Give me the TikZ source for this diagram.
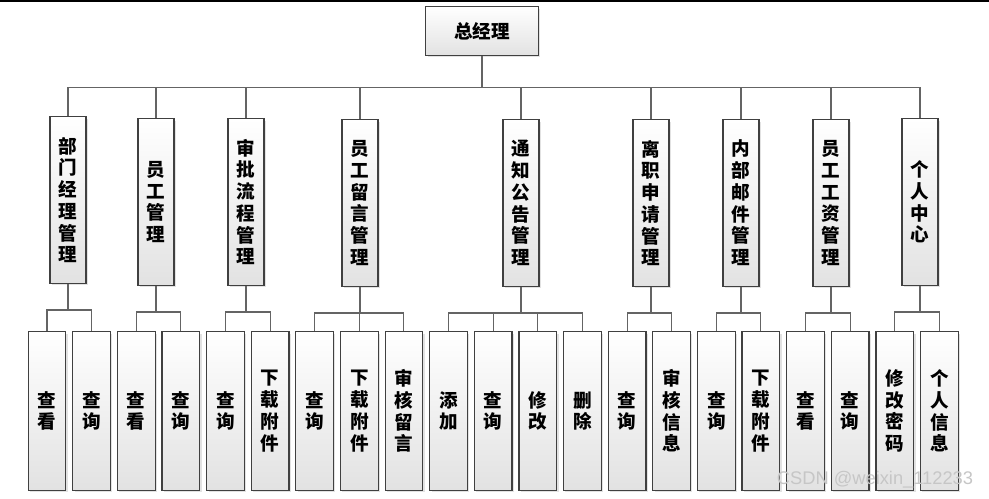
\documentclass[tikz,border=0pt]{standalone}
\usepackage{fontspec}
\usepackage{xcolor}
\usepackage{tikz}
\newfontfamily\cjk{Noto Sans CJK SC}
\newfontfamily\wmfont{Liberation Sans}
\definecolor{boxline}{RGB}{64, 64, 64}
\definecolor{linkgray}{RGB}{100, 100, 100}
\definecolor{shadegray}{RGB}{226, 226, 226}
\usetikzlibrary{positioning, calc, shadows}

\begin{document}
\begin{tikzpicture}[
    x=0.0265cm, y=-0.0265cm,
    node distance=0.151cm,
    basebox/.style={rectangle, draw=boxline, line width=0.9pt, top color=white, bottom color=shadegray, drop shadow={shadow xshift=0.05cm, shadow yshift=-0.05cm, fill=gray!45}, inner sep=0pt, align=center, font=\cjk\bfseries\fontsize{14}{16.4}\selectfont},
    topbox/.style={basebox, minimum width=2.98cm, minimum height=1.29cm},
    modbox/.style={basebox, minimum width=0.95cm, minimum height=4.42cm},
    leafbox/.style={basebox, minimum width=1.0cm, minimum height=4.2cm},
    link/.style={draw=linkgray, line width=0.8pt}
]
    \useasboundingbox[fill=white] (0,0) rectangle (989,499);
    \draw[line width=0.05cm] (0,1) -- (989,1);

    \node[topbox] (gm) at (482,31) {总经理};

    \node[modbox] (m1) at (68,200) {部\\门\\经\\理\\管\\理};
    \node[modbox] (m2) at (156,202) {员\\工\\管\\理};
    \node[modbox] (m3) at (246,202) {审\\批\\流\\程\\管\\理};
    \node[modbox] (m4) at (360,203) {员\\工\\留\\言\\管\\理};
    \node[modbox] (m5) at (521,203) {通\\知\\公\\告\\管\\理};
    \node[modbox] (m6) at (651,203) {离\\职\\申\\请\\管\\理};
    \node[modbox] (m7) at (741,203) {内\\部\\邮\\件\\管\\理};
    \node[modbox] (m8) at (831,203) {员\\工\\工\\资\\管\\理};
    \node[modbox] (m9) at (920,202) {个\\人\\中\\心};

    \node[leafbox] (a1) at (47,411) {查\\看};
    \node[leafbox, right=of a1] (a2) {查\\询};
    \node[leafbox, right=of a2] (b1) {查\\看};
    \node[leafbox, right=of b1] (b2) {查\\询};
    \node[leafbox, right=of b2] (c1) {查\\询};
    \node[leafbox, right=of c1] (c2) {下\\载\\附\\件};
    \node[leafbox, right=of c2] (d1) {查\\询};
    \node[leafbox, right=of d1] (d2) {下\\载\\附\\件};
    \node[leafbox, right=of d2] (d3) {审\\核\\留\\言};
    \node[leafbox, right=of d3] (e1) {添\\加};
    \node[leafbox, right=of e1] (e2) {查\\询};
    \node[leafbox, right=of e2] (e3) {修\\改};
    \node[leafbox, right=of e3] (e4) {删\\除};
    \node[leafbox, right=of e4] (f1) {查\\询};
    \node[leafbox, right=of f1] (f2) {审\\核\\信\\息};
    \node[leafbox, right=of f2] (g1) {查\\询};
    \node[leafbox, right=of g1] (g2) {下\\载\\附\\件};
    \node[leafbox, right=of g2] (h1) {查\\看};
    \node[leafbox, right=of h1] (h2) {查\\询};
    \node[leafbox, right=of h2] (i1) {修\\改\\密\\码};
    \node[leafbox, right=of i1] (i2) {个\\人\\信\\息};

    \foreach \i in {1,...,9}
        \draw[link] (gm.south) -- ++(0,32) -| (m\i.north);

    \foreach \m/\ls in {m1/{a1,a2}, m2/{b1,b2}, m3/{c1,c2}, m4/{d1,d2,d3}, m5/{e1,e2,e3,e4}, m6/{f1,f2}, m7/{g1,g2}, m8/{h1,h2}, m9/{i1,i2}}
        \foreach \l in \ls
            \draw[link] (\m.south) -- ++(0,26) -| (\l.north);

    \node[font=\wmfont\fontsize{13.8}{16}\selectfont, text=gray!45] (wm) at (875,480) {CSDN @weixin\_112233};
\end{tikzpicture}
\end{document}
